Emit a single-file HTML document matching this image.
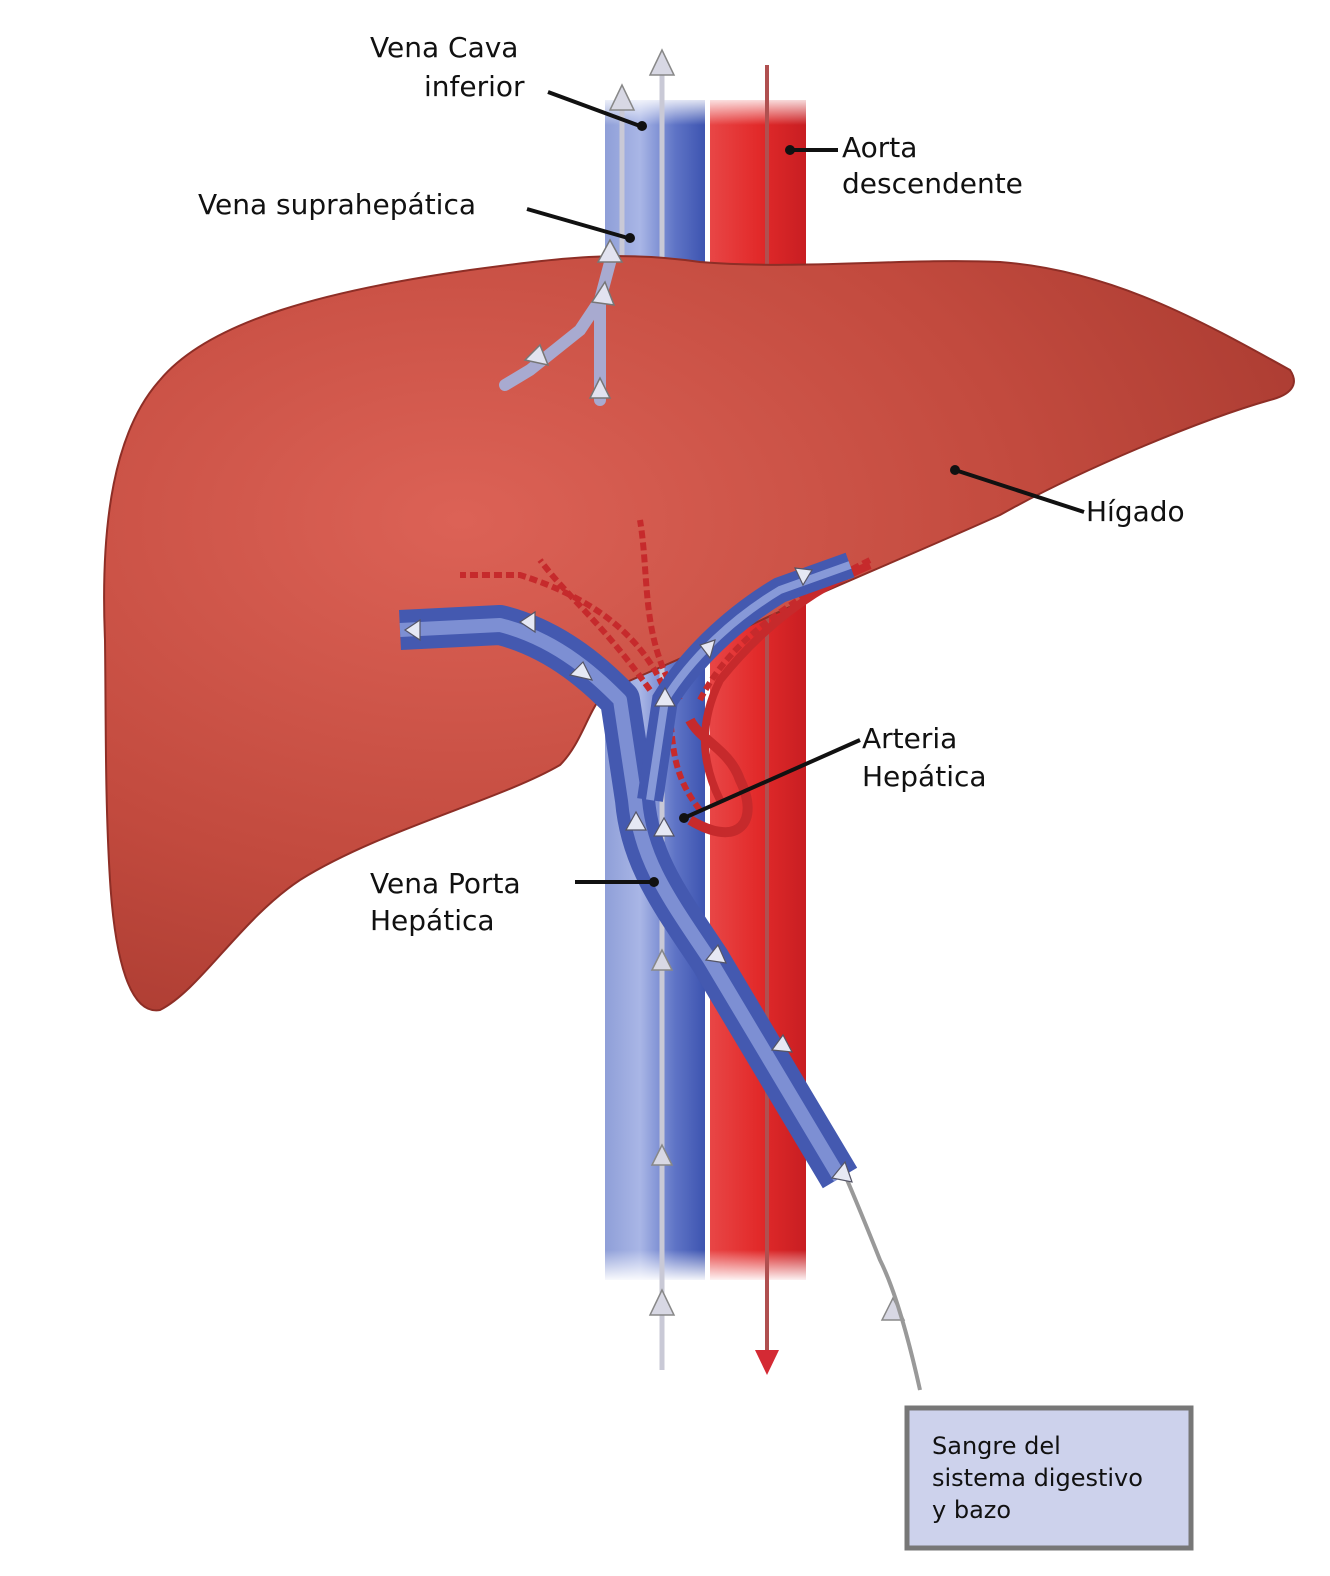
<!DOCTYPE html>
<html><head><style>
html,body{margin:0;padding:0;background:#fff;}
svg{display:block;}
text{font-family:"DejaVu Sans","Liberation Sans",sans-serif;font-size:28px;fill:#111;font-weight:500;}
</style></head><body>
<svg width="1330" height="1576" viewBox="0 0 1330 1576" xmlns="http://www.w3.org/2000/svg">
<defs>
<linearGradient id="vc" x1="0" x2="1" y1="0" y2="0">
<stop offset="0" stop-color="#8f9fd8"/><stop offset="0.35" stop-color="#a9b6e6"/><stop offset="0.7" stop-color="#5f74c6"/><stop offset="1" stop-color="#3d54b0"/>
</linearGradient>
<linearGradient id="ao" x1="0" x2="1" y1="0" y2="0">
<stop offset="0" stop-color="#e84646"/><stop offset="0.5" stop-color="#e22a2a"/><stop offset="1" stop-color="#c81e22"/>
</linearGradient>
<radialGradient id="lv" cx="0.3" cy="0.35" r="0.8">
<stop offset="0" stop-color="#dc6256"/><stop offset="0.6" stop-color="#c24a3e"/><stop offset="1" stop-color="#a83a30"/>
</radialGradient>
<linearGradient id="fadeT" x1="0" x2="0" y1="0" y2="1"><stop offset="0" stop-color="#fff" stop-opacity="1"/><stop offset="1" stop-color="#fff" stop-opacity="0"/></linearGradient>
<linearGradient id="fadeB" x1="0" x2="0" y1="0" y2="1"><stop offset="0" stop-color="#fff" stop-opacity="0"/><stop offset="1" stop-color="#fff" stop-opacity="1"/></linearGradient>
</defs>

<rect x="605" y="100" width="100" height="1180" fill="url(#vc)"/>
<rect x="710" y="100" width="96" height="1180" fill="url(#ao)"/>
<rect x="600" y="95" width="210" height="30" fill="url(#fadeT)"/>
<rect x="600" y="1250" width="210" height="32" fill="url(#fadeB)"/>

<g stroke="#c9c9d6" stroke-width="5" fill="none">
<line x1="662" y1="1370" x2="662" y2="70"/>
<line x1="622" y1="300" x2="622" y2="100"/>
</g>
<g fill="#d8d8e4" stroke="#888" stroke-width="1.5">
<polygon points="662,50 650,75 674,75"/>
<polygon points="622,85 610,110 634,110"/>
<polygon points="662,1290 650,1315 674,1315"/>
<polygon points="662,1145 652,1165 672,1165"/>
<polygon points="662,950 652,970 672,970"/>
<polygon points="893,1298 882,1320 904,1320"/>
</g>
<line x1="767" y1="65" x2="767" y2="1360" stroke="#b05050" stroke-width="4"/>
<polygon points="767,1375 755,1350 779,1350" fill="#d42a34"/>
<path d="M920,1390 Q900,1300 880,1260 Q860,1210 845,1175" stroke="#999" stroke-width="4" fill="none"/>

<path d="M105,640 C100,520 115,430 160,380 C210,320 330,290 470,270 C560,258 620,250 700,262 C800,270 900,258 1000,262 C1110,270 1200,320 1290,370 C1300,385 1290,395 1270,400 C1200,420 1080,470 1000,515 C900,560 800,600 720,640 C680,660 640,675 610,690 C590,700 585,740 560,765 C500,800 380,830 300,880 C240,920 200,990 160,1010 C130,1015 115,960 110,880 C105,800 106,720 105,640 Z" fill="url(#lv)" stroke="#8e2e26" stroke-width="2"/>

<g stroke="#a8aad0" stroke-width="12" fill="none" stroke-linecap="round">
<path d="M612,255 L600,300 L580,330 L530,370 L505,385"/>
<path d="M600,300 L600,350 L600,400"/>
</g>
<g fill="#e2e3f0" stroke="#777" stroke-width="1.5">
<polygon points="610,240 598,262 622,262"/>
<polygon points="540,345 525,360 548,365"/>
<polygon points="600,378 590,398 610,398"/>
<polygon points="605,282 592,302 614,305"/>
</g>

<g stroke="#c62a2c" stroke-width="6" fill="none" stroke-dasharray="8 4">
<path d="M700,810 C660,760 680,720 660,680 C640,640 600,600 520,575 L460,575"/>
<path d="M680,700 C640,640 650,580 640,520"/>
<path d="M700,700 C730,640 790,600 870,560"/>
<path d="M650,690 C600,620 570,600 540,560"/>
</g>
<path d="M720,800 C700,760 700,720 720,680 C760,630 810,590 870,565" stroke="#c62a2c" stroke-width="8" fill="none"/>
<path d="M690,820 C740,850 760,820 740,780 C730,750 700,740 690,720" stroke="#c62a2c" stroke-width="10" fill="none"/>

<path d="M840,1178 L710,960 C670,900 640,860 635,800 L620,700 C600,680 560,640 500,625 L400,630" stroke="#4459b0" stroke-width="40" fill="none" stroke-linejoin="round"/>
<path d="M840,1178 L710,960 C670,900 640,860 635,800 L620,700 C600,680 560,640 500,625 L400,630" stroke="#7d8fd3" stroke-width="14" fill="none" stroke-linejoin="round"/>
<path d="M650,800 L665,700 C690,660 730,620 780,590 L850,565" stroke="#4459b0" stroke-width="26" fill="none"/>
<path d="M650,800 L665,700 C690,660 730,620 780,590 L850,565" stroke="#8799d8" stroke-width="8" fill="none"/>
<g fill="#e6e8f4" stroke="#556" stroke-width="1.2">
<polygon points="845,1162 832,1178 852,1182"/>
<polygon points="783,1035 772,1050 792,1052"/>
<polygon points="718,945 706,960 726,963"/>
<polygon points="636,812 626,830 646,830"/>
<polygon points="664,818 654,836 674,836"/>
<polygon points="665,688 655,706 675,706"/>
<polygon points="583,662 570,675 592,680"/>
<polygon points="520,622 535,612 535,632"/>
<polygon points="405,630 420,620 420,640"/>
<polygon points="812,570 795,568 803,585"/>
<polygon points="715,640 700,645 710,658"/>
</g>

<text x="370" y="57">Vena Cava</text>
<text x="424" y="96">inferior</text>
<line x1="548" y1="92" x2="640" y2="126" stroke="#111" stroke-width="4"/>
<circle cx="642" cy="126" r="5" fill="#111"/>
<text x="842" y="157">Aorta</text>
<text x="842" y="193">descendente</text>
<line x1="790" y1="150" x2="838" y2="150" stroke="#111" stroke-width="4"/>
<circle cx="790" cy="150" r="5" fill="#111"/>
<text x="198" y="214">Vena suprahepática</text>
<line x1="527" y1="209" x2="628" y2="238" stroke="#111" stroke-width="4"/>
<circle cx="630" cy="238" r="5" fill="#111"/>
<text x="1086" y="521">Hígado</text>
<line x1="955" y1="470" x2="1084" y2="512" stroke="#111" stroke-width="4"/>
<circle cx="955" cy="470" r="5" fill="#111"/>
<text x="862" y="748">Arteria</text>
<text x="862" y="786">Hepática</text>
<line x1="684" y1="818" x2="860" y2="740" stroke="#111" stroke-width="4"/>
<circle cx="684" cy="818" r="5" fill="#111"/>
<text x="370" y="893">Vena Porta</text>
<text x="370" y="930">Hepática</text>
<line x1="575" y1="882" x2="654" y2="882" stroke="#111" stroke-width="4"/>
<circle cx="654" cy="882" r="5" fill="#111"/>

<rect x="907" y="1408" width="284" height="140" fill="#cdd2ec" stroke="#777" stroke-width="5"/>
<text x="932" y="1454" style="font-size:24px">Sangre del</text>
<text x="932" y="1486" style="font-size:24px">sistema digestivo</text>
<text x="932" y="1518" style="font-size:24px">y bazo</text>
</svg>
</body></html>
